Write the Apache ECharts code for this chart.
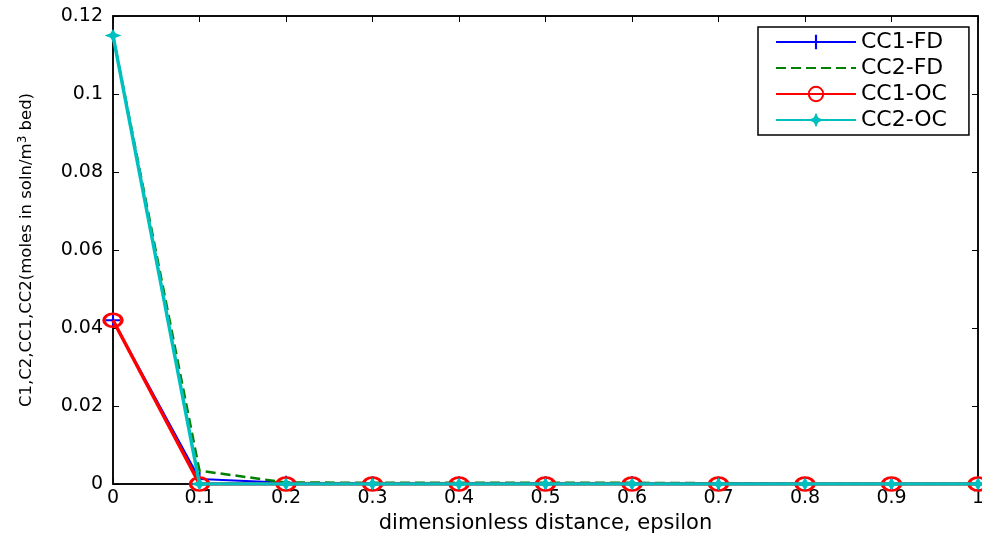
<!DOCTYPE html>
<html><head><meta charset="utf-8">
<script src="https://cdn.jsdelivr.net/npm/echarts@6/dist/echarts.min.js"></script>
<style>html,body{margin:0;padding:0;background:#fff}#c{width:982px;height:534px}</style>
</head><body><div id="c"></div>
<script>
const epsilon = [0, 0.1, 0.2, 0.3, 0.4, 0.5, 0.6, 0.7, 0.8, 0.9, 1.0];
const cc1FD = [0.042, 0.0013, 0.0003, 0.0002, 0.0002, 0.0002, 0.0002, 0.0001, 0.0000, 0.0000, 0.0000];
const cc2FD = [0.1150, 0.0034, 0.0004, 0.0003, 0.0003, 0.0003, 0.0003, 0.0002, 0.0000, 0.0000, 0.0000];
const cc1OC = [0.042, 0.0000, 0.0000, 0.0000, 0.0000, 0.0000, 0.0000, 0.0000, 0.0000, 0.0000, 0.0000];
const cc2OC = [0.1150, 0.0000, 0.0000, 0.0000, 0.0000, 0.0000, 0.0000, 0.0000, 0.0000, 0.0000, 0.0000];
const seriesNames = ['CC1-FD', 'CC2-FD', 'CC1-OC', 'CC2-OC'];
const xTicks = [0, 0.1, 0.2, 0.3, 0.4, 0.5, 0.6, 0.7, 0.8, 0.9, 1];
const yTicks = [0, 0.02, 0.04, 0.06, 0.08, 0.1, 0.12];

const pair = ys => epsilon.map((x, i) => [x, ys[i]]);
const plusPath = 'path://M-1.5,-10H1.5V-1.5H10V1.5H1.5V10H-1.5V1.5H-10V-1.5H-1.5Z';
const starPath = 'path://M0,-10L3,-3.5L10,0L3,3.5L0,10L-3,3.5L-10,0L-3,-3.5Z';
const font = 'DejaVu Sans, Liberation Sans, sans-serif';

const chart = echarts.init(document.getElementById('c'));
const tickStyle = {show: true, inside: true, length: 6, lineStyle: {color: '#000', width: 1}};
const fmt = list => v => { const t = list.find(k => Math.abs(k - v) < 1e-9); return t === undefined ? '' : String(t); };
chart.setOption({
  animation: false,
  grid: {left: 113, right: 4, top: 16, bottom: 50, show: true, borderColor: '#000', borderWidth: 1.5,
    containLabel: false, outerBoundsMode: 'none'},
  xAxis: [{
    type: 'value', min: 0, max: 1, interval: 0.1,
    axisLine: {show: true, onZero: false, lineStyle: {color: '#000', width: 1.5}},
    axisTick: tickStyle, splitLine: {show: false},
    axisLabel: {color: '#000', fontSize: 19, fontFamily: font, margin: 5, formatter: fmt(xTicks)},
    name: 'dimensionless distance, epsilon', nameLocation: 'middle', nameGap: 28,
    nameTextStyle: {color: '#000', fontSize: 21, fontFamily: font}
  }, {
    type: 'value', position: 'top', min: 0, max: 1, interval: 0.1,
    axisLine: {show: true, onZero: false, lineStyle: {color: '#000', width: 1.5}},
    axisTick: tickStyle, axisLabel: {show: false}, splitLine: {show: false}
  }],
  yAxis: [{
    type: 'value', min: 0, max: 0.12, interval: 0.02,
    axisLine: {show: true, onZero: false, lineStyle: {color: '#000', width: 1.5}},
    axisTick: tickStyle, splitLine: {show: false},
    axisLabel: {color: '#000', fontSize: 19, fontFamily: font, margin: 10, formatter: fmt(yTicks)},
    name: 'C1,C2,CC1,CC2(moles in soln/m{sup|3} bed)', nameLocation: 'middle', nameGap: 76, nameRotate: 90,
    nameTextStyle: {color: '#000', fontSize: 16.5, fontFamily: font,
      rich: {sup: {fontSize: 12, verticalAlign: 'top', padding: [0, 0, 8, 0], fontFamily: font, color: '#000'}}}
  }, {
    type: 'value', position: 'right', min: 0, max: 0.12, interval: 0.02,
    axisLine: {show: true, onZero: false, lineStyle: {color: '#000', width: 1.5}},
    axisTick: tickStyle, axisLabel: {show: false}, splitLine: {show: false}
  }],
  legend: {
    left: 758, top: 27, orient: 'vertical', backgroundColor: '#fff',
    borderColor: '#000', borderWidth: 1.5, borderRadius: 0,
    padding: [4, 22, 4, 17], itemGap: 4, itemWidth: 80, itemHeight: 18,
    textStyle: {color: '#000', fontSize: 22, lineHeight: 20, fontFamily: font},
    data: seriesNames
  },
  series: [
    {name: seriesNames[0], type: 'line', data: pair(cc1FD), z: 2,
      lineStyle: {color: '#0000FF', width: 2}, itemStyle: {color: '#0000FF'},
      symbol: plusPath, symbolSize: [14, 14], showSymbol: true},
    {name: seriesNames[1], type: 'line', data: pair(cc2FD), z: 3,
      lineStyle: {color: '#008000', width: 2.5, type: [10, 5]}, itemStyle: {color: 'rgba(0,0,0,0)'},
      symbol: 'circle', symbolSize: 1},
    {name: seriesNames[2], type: 'line', data: pair(cc1OC), z: 4,
      lineStyle: {color: '#FF0000', width: 3.5},
      itemStyle: {color: 'rgba(0,0,0,0)', borderColor: '#FF0000', borderWidth: 3},
      symbol: 'circle', symbolSize: [18, 13]},
    {name: seriesNames[3], type: 'line', data: pair(cc2OC), z: 5,
      lineStyle: {color: '#00BFBF', width: 3.5}, itemStyle: {color: '#00BFBF'},
      symbol: starPath, symbolSize: [17, 13]}
  ]
});
</script></body></html>
